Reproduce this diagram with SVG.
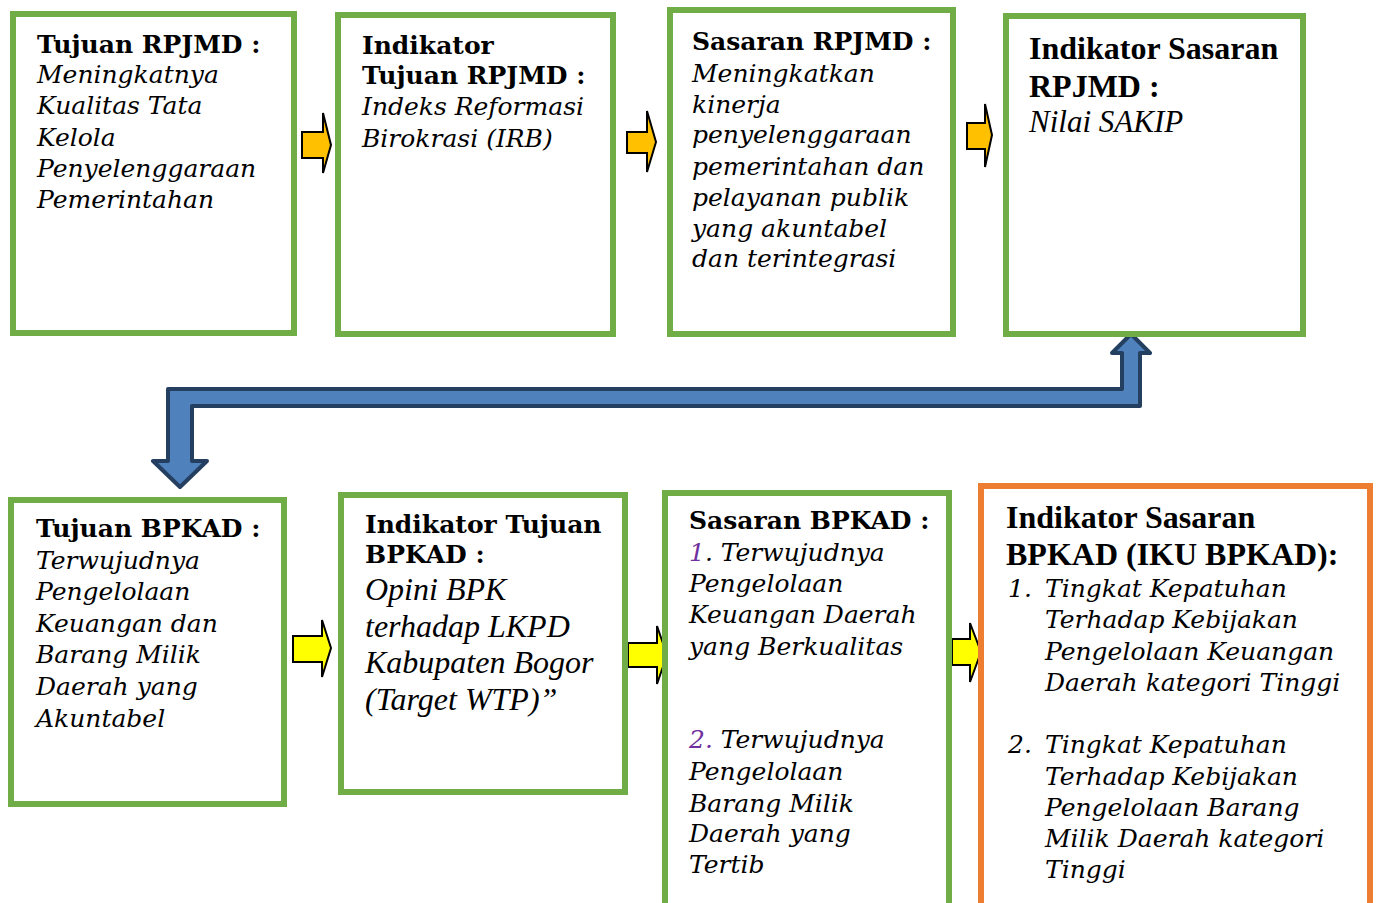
<svg xmlns="http://www.w3.org/2000/svg" width="1376" height="903" viewBox="0 0 1376 903">
<style>
.box{fill:#fff;stroke:#70AD47;stroke-width:6}
.boxo{fill:#fff;stroke:#ED7D31;stroke-width:6}
.hb{font-family:"DejaVu Serif",serif;font-weight:bold;font-size:25px;fill:#000}
.bi{font-family:"DejaVu Serif",serif;font-style:italic;font-size:25px;fill:#000}
.tb{font-family:"Liberation Serif",serif;font-weight:bold;font-size:32px;fill:#000}
.ti{font-family:"Liberation Serif",serif;font-style:italic;font-size:31px;fill:#000}
.num{fill:#7030A0}
.ao{fill:#FFC000;stroke:#000;stroke-width:2;stroke-linejoin:miter}
.ay{fill:#FFFF00;stroke:#000;stroke-width:2;stroke-linejoin:miter}
.blue{fill:#4F81BD;stroke:#243F60;stroke-width:4;stroke-linejoin:round}
</style>
<g id="connectors">
<polygon class="ao" points="302,132 323,132 323,113 331,145 323,173 323,158 302,158"/>
<polygon class="ao" points="627,132 647,132 647,111 656,142 647,172 647,153 627,153"/>
<polygon class="ao" points="967,123 985,123 985,104 992,135 985,167 985,149 967,149"/>
<polygon class="ay" points="293,636 322,636 322,620 331,648 322,677 322,662 293,662"/>
<polygon class="ay" points="628,643 657,643 657,626 667,655 657,684 657,667 628,667"/>
<polygon class="ay" points="952,639 970,639 970,623 981,652 970,682 970,665 952,665"/>
<path class="blue" d="M168,389 L1122,389 L1122,353 L1112,353 L1131,334 L1150,353 L1140,353 L1140,406 L192,406 L192,461 L207,461 L180,487 L153,461 L168,461 Z"/>
</g>
<g id="n1">
<rect class="box" x="13" y="14" width="281" height="319"/>
<text class="hb" x="37" y="53">Tujuan RPJMD :</text>
<text class="bi" x="37" y="83">Meningkatnya</text>
<text class="bi" x="37" y="114">Kualitas Tata</text>
<text class="bi" x="37" y="146">Kelola</text>
<text class="bi" x="37" y="177">Penyelenggaraan</text>
<text class="bi" x="37" y="208">Pemerintahan</text>
</g>
<g id="n2">
<rect class="box" x="338" y="15" width="275" height="319"/>
<text class="hb" x="362" y="54">Indikator</text>
<text class="hb" x="362" y="84">Tujuan RPJMD :</text>
<text class="bi" x="362" y="115">Indeks Reformasi</text>
<text class="bi" x="362" y="147">Birokrasi (IRB)</text>
</g>
<g id="n3">
<rect class="box" x="670" y="10" width="283" height="324"/>
<text class="hb" x="692" y="50">Sasaran RPJMD :</text>
<text class="bi" x="692" y="82">Meningkatkan</text>
<text class="bi" x="692" y="113">kinerja</text>
<text class="bi" x="692" y="143">penyelenggaraan</text>
<text class="bi" x="692" y="175">pemerintahan dan</text>
<text class="bi" x="692" y="206">pelayanan publik</text>
<text class="bi" x="692" y="237">yang akuntabel</text>
<text class="bi" x="692" y="267">dan terintegrasi</text>
</g>
<g id="n4">
<rect class="box" x="1006" y="16" width="297" height="318"/>
<text class="tb" x="1029" y="59">Indikator Sasaran</text>
<text class="tb" x="1029" y="97">RPJMD :</text>
<text class="ti" x="1029" y="132">Nilai SAKIP</text>
</g>
<g id="n5">
<rect class="box" x="11" y="500" width="273" height="304"/>
<text class="hb" x="36" y="537">Tujuan BPKAD :</text>
<text class="bi" x="36" y="569">Terwujudnya</text>
<text class="bi" x="36" y="600">Pengelolaan</text>
<text class="bi" x="36" y="632">Keuangan dan</text>
<text class="bi" x="36" y="663">Barang Milik</text>
<text class="bi" x="36" y="695">Daerah yang</text>
<text class="bi" x="36" y="727">Akuntabel</text>
</g>
<g id="n6">
<rect class="box" x="341" y="495" width="284" height="297"/>
<text class="hb" x="365" y="533">Indikator Tujuan</text>
<text class="hb" x="365" y="563">BPKAD :</text>
<text class="ti" x="365" y="600" style="font-size:32px">Opini BPK</text>
<text class="ti" x="365" y="637" style="font-size:32px">terhadap LKPD</text>
<text class="ti" x="365" y="673" style="font-size:32px">Kabupaten Bogor</text>
<text class="ti" x="365" y="710" style="font-size:32px">(Target WTP)”</text>
</g>
<g id="n7">
<rect class="box" x="665" y="493" width="284" height="430"/>
<text class="hb" x="689" y="529">Sasaran BPKAD :</text>
<text class="bi" x="689" y="561"><tspan class="num">1</tspan>. Terwujudnya</text>
<text class="bi" x="689" y="592">Pengelolaan</text>
<text class="bi" x="689" y="623">Keuangan Daerah</text>
<text class="bi" x="689" y="655">yang Berkualitas</text>
<text class="bi" x="689" y="748"><tspan class="num">2.</tspan> Terwujudnya</text>
<text class="bi" x="689" y="780">Pengelolaan</text>
<text class="bi" x="689" y="812">Barang Milik</text>
<text class="bi" x="689" y="842">Daerah yang</text>
<text class="bi" x="689" y="873">Tertib</text>
</g>
<g id="n8">
<rect class="boxo" x="981" y="486" width="389" height="440"/>
<text class="tb" x="1006" y="528">Indikator Sasaran</text>
<text class="tb" x="1006" y="565">BPKAD (IKU BPKAD):</text>
<text class="bi" x="1008" y="597">1.</text>
<text class="bi" x="1045" y="597">Tingkat Kepatuhan</text>
<text class="bi" x="1045" y="628">Terhadap Kebijakan</text>
<text class="bi" x="1045" y="660">Pengelolaan Keuangan</text>
<text class="bi" x="1045" y="691">Daerah kategori Tinggi</text>
<text class="bi" x="1008" y="753">2.</text>
<text class="bi" x="1045" y="753">Tingkat Kepatuhan</text>
<text class="bi" x="1045" y="785">Terhadap Kebijakan</text>
<text class="bi" x="1045" y="816">Pengelolaan Barang</text>
<text class="bi" x="1045" y="847">Milik Daerah kategori</text>
<text class="bi" x="1045" y="878">Tinggi</text>
</g>
</svg>
